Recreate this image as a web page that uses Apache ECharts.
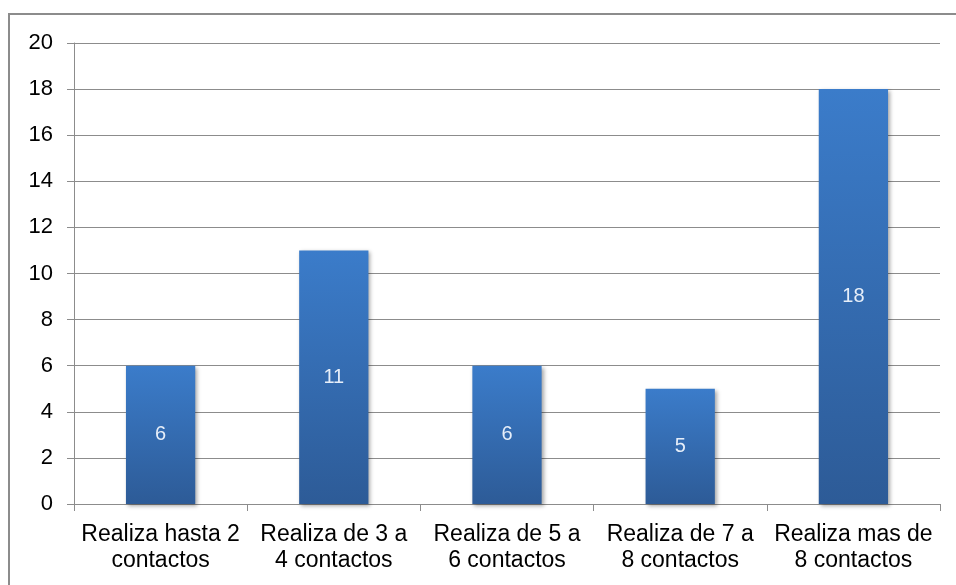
<!DOCTYPE html>
<html>
<head>
<meta charset="utf-8">
<script src="https://cdn.jsdelivr.net/npm/echarts@6/dist/echarts.min.js"></script>
<style>
  html, body { margin: 0; padding: 0; background: #fff; }
  #chart { width: 956px; height: 585px; }
</style>
</head>
<body>
<div id="chart"></div>
<script>
// chart data
var categories = [
  'Realiza hasta 2\ncontactos',
  'Realiza de 3 a\n4 contactos',
  'Realiza de 5 a\n6 contactos',
  'Realiza de 7 a\n8 contactos',
  'Realiza mas de\n8 contactos'
];
var values = [6, 11, 6, 5, 18];

var myChart = echarts.init(document.getElementById('chart'));
var option = {
  animation: false,
  backgroundColor: '#fff',
  textStyle: { fontFamily: 'Liberation Sans, Arial, sans-serif' },
  graphic: [
    {
      type: 'rect',
      shape: { x: 9, y: 14, width: 980, height: 620 },
      style: { fill: 'none', stroke: '#8c8c8c', lineWidth: 2 },
      silent: true
    }
  ],
  grid: { left: 74, right: 16, top: 43, bottom: 81, containLabel: false },
  xAxis: {
    type: 'category',
    data: categories,
    axisLine: { show: true, lineStyle: { color: '#8c8c8c', width: 1 } },
    axisTick: { show: true, length: 7, alignWithLabel: false, lineStyle: { color: '#8c8c8c' } },
    axisLabel: {
      interval: 0,
      color: '#000',
      fontSize: 23,
      lineHeight: 26,
      margin: 18
    },
    splitLine: { show: false }
  },
  yAxis: {
    type: 'value',
    min: 0,
    max: 20,
    interval: 2,
    axisLine: { show: true, lineStyle: { color: '#8c8c8c', width: 1 } },
    axisTick: { show: true, length: 7, lineStyle: { color: '#8c8c8c' } },
    axisLabel: { color: '#000', fontSize: 22, margin: 21 },
    splitLine: { show: true, lineStyle: { color: '#8c8c8c', width: 1 } }
  },
  series: [
    {
      type: 'bar',
      data: values,
      barWidth: '40%',
      itemStyle: {
        color: new echarts.graphic.LinearGradient(0, 0, 0, 1, [
          { offset: 0, color: '#3b7cca' },
          { offset: 1, color: '#2d5b97' }
        ]),
        shadowColor: 'rgba(0,0,0,0.35)',
        shadowBlur: 4,
        shadowOffsetX: 2,
        shadowOffsetY: 2
      },
      label: {
        show: true,
        position: 'inside',
        color: '#e6eef9',
        fontSize: 20
      }
    }
  ]
};
myChart.setOption(option);
</script>
</body>
</html>
